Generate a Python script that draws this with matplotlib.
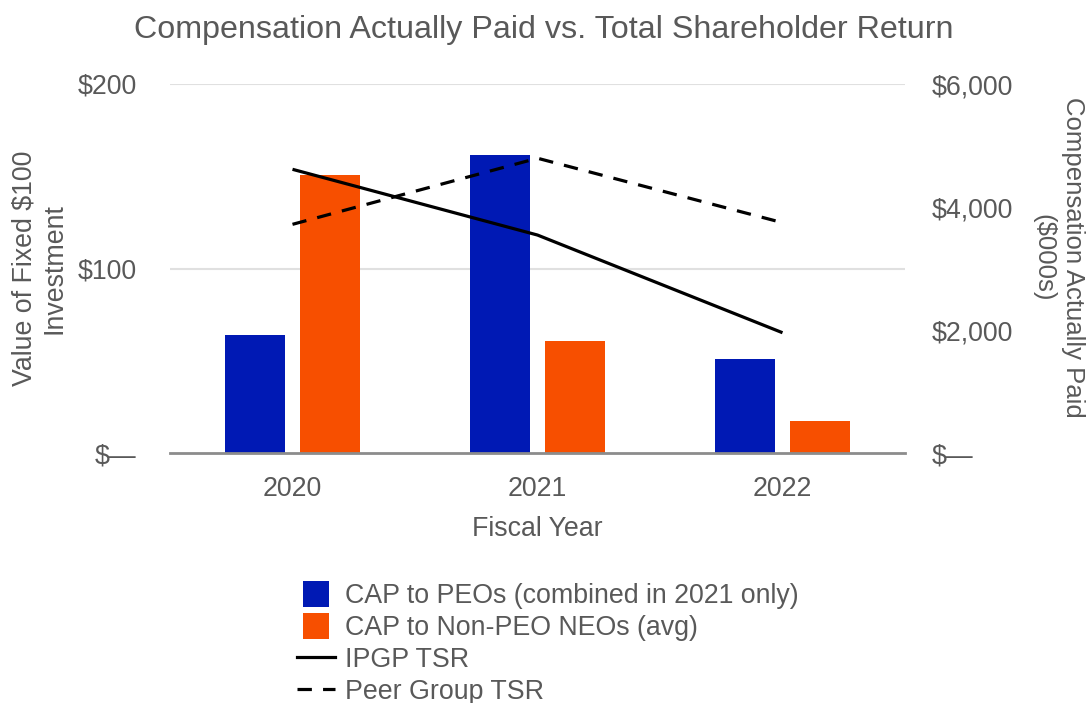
import matplotlib
matplotlib.use("Agg")
import matplotlib.pyplot as plt
import numpy as np
from matplotlib.lines import Line2D

years = ["2020", "2021", "2022"]
cap_peo = [1922, 4847, 1532]          # $000s
cap_non_peo = [4522, 1825, 525]       # $000s
ipgp_tsr = [153.8, 118.2, 65.3]       # value of $100
peer_tsr = [124.0, 159.8, 124.9]

left_ticks = [0, 100, 200]
left_labels = ["$—", "$100", "$200"]
right_ticks = [0, 2000, 4000, 6000]
right_labels = ["$—", "$2,000", "$4,000", "$6,000"]

BLUE = "#0019B4"
ORANGE = "#F74F00"
TEXT = "#595959"
FS = 19.3

plt.rcParams["font.family"] = ["Liberation Sans", "DejaVu Sans"]

fig = plt.figure(figsize=(10.87, 7.03), dpi=100)
ax = fig.add_axes([170 / 1087, 1 - 453.3 / 703, 735 / 1087, 369.3 / 703])
ax2 = ax.twinx()

x = np.arange(len(years))
w = 0.245
off = 0.152

# horizontal gridlines at the left-axis ticks, kept behind the bars
for t in left_ticks[1:]:
    ax2.axhline(t / 200 * 6000, color="#e0e0e0", lw=1.5, zorder=0)

ax2.bar(x - off, cap_peo, w, color=BLUE, zorder=2)
ax2.bar(x + off, cap_non_peo, w, color=ORANGE, zorder=2)
ax2.axhline(0, color="#8c8c8c", lw=2, zorder=3, clip_on=False)

# TSR lines on top of bars
ax.set_zorder(ax2.get_zorder() + 1)
ax.patch.set_visible(False)
ax.plot(x, ipgp_tsr, color="black", lw=2.3, solid_capstyle="butt")
ax.plot(x, peer_tsr, color="black", lw=2.3, dashes=(4.5, 3.5))

ax.set_xlim(-0.5, 2.5)
ax.set_ylim(0, 200)
ax2.set_ylim(0, 6000)

ax.set_yticks(left_ticks)
ax.set_yticklabels(left_labels)
ax2.set_yticks(right_ticks)
ax2.set_yticklabels(right_labels)
ax.set_xticks(x)
ax.set_xticklabels(years)

for a in (ax, ax2):
    a.tick_params(length=0, colors=TEXT, labelsize=FS)
    for s in a.spines.values():
        s.set_visible(False)
ax.tick_params(axis="y", pad=24)
ax2.tick_params(axis="y", pad=19)
ax.tick_params(axis="x", pad=16)

ax.set_ylabel("Value of Fixed $100\nInvestment", color=TEXT, fontsize=FS,
              linespacing=1.2)
ax.yaxis.set_label_coords(-0.139, 0.5)
ax2.set_ylabel("Compensation Actually Paid\n($000s)", color=TEXT, fontsize=18.5,
               rotation=270, linespacing=1.3, va="center")
ax2.yaxis.set_label_coords(1.208, 0.53)
ax.set_xlabel("Fiscal Year", color=TEXT, fontsize=FS, labelpad=10.5)

fig.text(0.5, 1 - 30 / 703, "Compensation Actually Paid vs. Total Shareholder Return",
         ha="center", va="center", color=TEXT, fontsize=23.2)

handles = [
    Line2D([], [], ls="none", marker="s", markersize=19, markeredgewidth=0,
           color=BLUE, label="CAP to PEOs (combined in 2021 only)"),
    Line2D([], [], ls="none", marker="s", markersize=19, markeredgewidth=0,
           color=ORANGE, label="CAP to Non-PEO NEOs (avg)"),
    Line2D([], [], color="black", lw=2.3, label="IPGP TSR"),
    Line2D([], [], color="black", lw=2.3, dashes=(4.5, 3.5), label="Peer Group TSR"),
]
leg = fig.legend(handles=handles, loc="upper left",
                 bbox_to_anchor=(297 / 1087, 1 - 583 / 703),
                 frameon=False, fontsize=FS, labelcolor=TEXT,
                 handlelength=1.42, handletextpad=0.38, labelspacing=0.22,
                 borderaxespad=0, borderpad=0)

fig.savefig("out.png", dpi=100)
